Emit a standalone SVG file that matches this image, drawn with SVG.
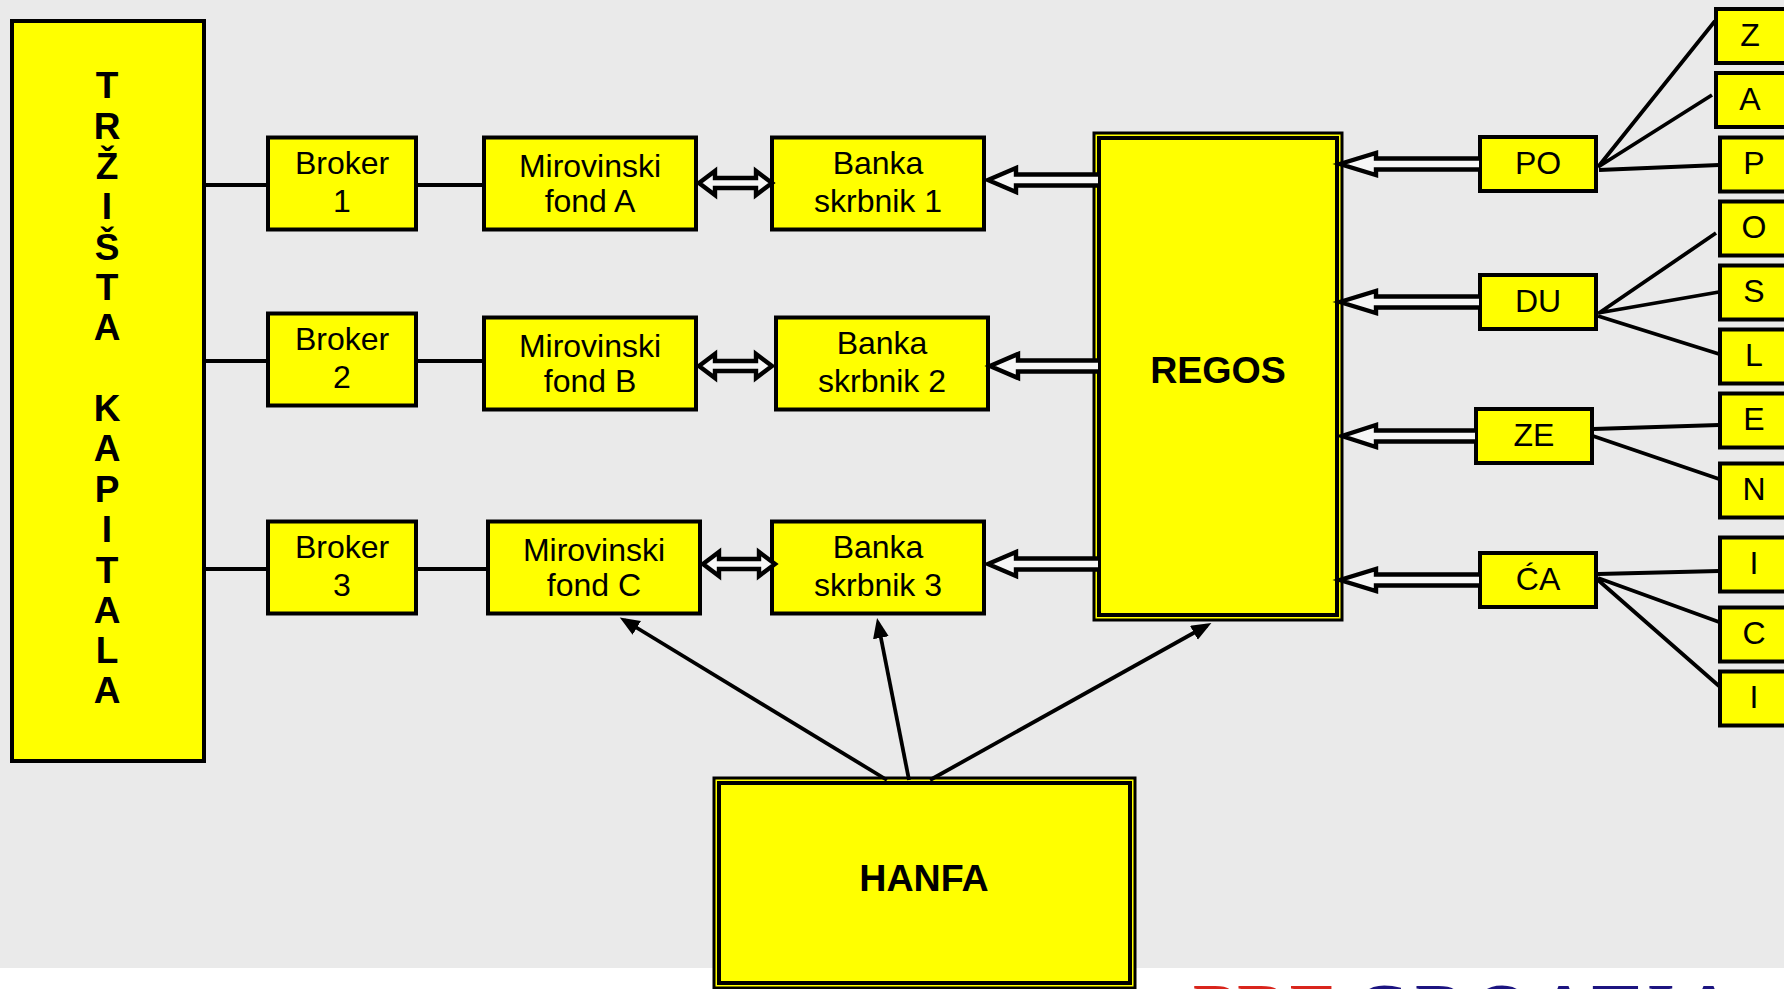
<svg xmlns="http://www.w3.org/2000/svg" width="1784" height="989" viewBox="0 0 1784 989">
<defs>
<style>
.b{fill:#ff0;stroke:#000;stroke-width:4}
.o{fill:#ff0;stroke:#000;stroke-width:3}
.t{font-family:"Liberation Sans",Arial,sans-serif;font-size:32px;fill:#000;text-anchor:middle}
.h{font-family:"Liberation Sans",Arial,sans-serif;font-size:37.6px;font-weight:bold;fill:#000;text-anchor:middle}
.v{font-family:"Liberation Sans",Arial,sans-serif;font-size:37px;font-weight:bold;fill:#000;text-anchor:middle}
.l{fill:none;stroke:#000;stroke-width:3.8}
.w{fill:#f6f6f6;stroke:#000;stroke-width:4.4}
.g{font-family:"Liberation Serif",serif;font-size:71px;font-weight:bold}
</style>
<marker id="ah" markerUnits="userSpaceOnUse" markerWidth="22" markerHeight="18" refX="15" refY="8" orient="auto"><path d="M0 0L20 8L0 16Z" fill="#000"/></marker>
</defs>
<rect width="1784" height="989" fill="#fff"/>
<rect width="1784" height="968" fill="#eaeaea"/>
<g id="logo" class="g"><text x="1193" y="1033" fill="#d9251c" textLength="145" lengthAdjust="spacingAndGlyphs">PRE</text><text x="1356" y="1033" fill="#1c1480" textLength="378" lengthAdjust="spacing">CROATIA</text></g>
<g id="trzista"><rect class="b" x="12" y="21" width="192" height="740"/>
<text class="v" x="107" y="98">T</text><text class="v" x="107" y="139">R</text><text class="v" x="107" y="179">Ž</text><text class="v" x="107" y="219">I</text><text class="v" x="107" y="260">Š</text><text class="v" x="107" y="300">T</text><text class="v" x="107" y="340">A</text><text class="v" x="107" y="421">K</text><text class="v" x="107" y="461">A</text><text class="v" x="107" y="502">P</text><text class="v" x="107" y="542">I</text><text class="v" x="107" y="583">T</text><text class="v" x="107" y="623">A</text><text class="v" x="107" y="663">L</text><text class="v" x="107" y="703">A</text></g>
<g id="broker1"><rect class="b" x="268" y="137.500" width="148" height="92"/><text class="t" x="342" y="174">Broker</text><text class="t" x="342" y="212">1</text></g>
<g id="broker2"><rect class="b" x="268" y="313.500" width="148" height="92"/><text class="t" x="342" y="350">Broker</text><text class="t" x="342" y="388">2</text></g>
<g id="broker3"><rect class="b" x="268" y="521.500" width="148" height="92"/><text class="t" x="342" y="558">Broker</text><text class="t" x="342" y="596">3</text></g>
<g id="fondA"><rect class="b" x="484" y="137.500" width="212" height="92"/><text class="t" x="590" y="177">Mirovinski</text><text class="t" x="590" y="212">fond A</text></g>
<g id="fondB"><rect class="b" x="484" y="317.500" width="212" height="92"/><text class="t" x="590" y="357">Mirovinski</text><text class="t" x="590" y="392">fond B</text></g>
<g id="fondC"><rect class="b" x="488" y="521.500" width="212" height="92"/><text class="t" x="594" y="561">Mirovinski</text><text class="t" x="594" y="596">fond C</text></g>
<g id="banka1"><rect class="b" x="772" y="137.500" width="212" height="92"/><text class="t" x="878" y="174">Banka</text><text class="t" x="878" y="212">skrbnik 1</text></g>
<g id="banka2"><rect class="b" x="776" y="317.500" width="212" height="92"/><text class="t" x="882" y="354">Banka</text><text class="t" x="882" y="392">skrbnik 2</text></g>
<g id="banka3"><rect class="b" x="772" y="521.500" width="212" height="92"/><text class="t" x="878" y="558">Banka</text><text class="t" x="878" y="596">skrbnik 3</text></g>
<g id="regos"><rect class="o" x="1094" y="133" width="248" height="487"/><rect class="b" x="1099" y="138" width="238" height="477"/><text class="h" x="1218" y="383">REGOS</text></g>
<g id="hanfa"><rect class="o" x="714" y="778" width="421" height="210"/><rect class="b" x="719" y="783" width="411" height="200"/><text class="h" x="924" y="891">HANFA</text></g>
<g id="po"><rect class="b" x="1480" y="137" width="116" height="54"/><text class="t" x="1538" y="174">PO</text></g>
<g id="du"><rect class="b" x="1480" y="275" width="116" height="54"/><text class="t" x="1538" y="312">DU</text></g>
<g id="ze"><rect class="b" x="1476" y="409" width="116" height="54"/><text class="t" x="1534" y="446">ZE</text></g>
<g id="ca"><rect class="b" x="1480" y="553" width="116" height="54"/><text class="t" x="1538" y="590">ĆA</text></g>
<g id="z"><rect class="b" x="1716" y="9" width="80" height="54"/><text class="t" x="1750" y="46">Z</text></g>
<g id="a"><rect class="b" x="1716" y="73" width="80" height="54"/><text class="t" x="1750" y="110">A</text></g>
<g id="p"><rect class="b" x="1720" y="137.500" width="80" height="54"/><text class="t" x="1754" y="174">P</text></g>
<g id="o"><rect class="b" x="1720" y="201.500" width="80" height="54"/><text class="t" x="1754" y="238">O</text></g>
<g id="s"><rect class="b" x="1720" y="265.500" width="80" height="54"/><text class="t" x="1754" y="302">S</text></g>
<g id="l"><rect class="b" x="1720" y="329.500" width="80" height="54"/><text class="t" x="1754" y="366">L</text></g>
<g id="e"><rect class="b" x="1720" y="393.500" width="80" height="54"/><text class="t" x="1754" y="430">E</text></g>
<g id="n"><rect class="b" x="1720" y="463.500" width="80" height="54"/><text class="t" x="1754" y="500">N</text></g>
<g id="i1"><rect class="b" x="1720" y="537.500" width="80" height="54"/><text class="t" x="1754" y="574">I</text></g>
<g id="c"><rect class="b" x="1720" y="607.500" width="80" height="54"/><text class="t" x="1754" y="644">C</text></g>
<g id="i2"><rect class="b" x="1720" y="671.500" width="80" height="54"/><text class="t" x="1754" y="708">I</text></g>
<g id="connectors">
<path class="l" d="M206 185H266M418 185H482M206 361H266M418 361H482M206 569H266M418 569H486"/>
<path class="w" d="M699 183L715 171V178H756V171L772 183L756 195V188H715V195Z"/>
<path class="w" d="M699 366L715 354V361H756V354L772 366L756 378V371H715V378Z"/>
<path class="w" d="M703 564L719 552V559H759V552L775 564L759 576V569H719V576Z"/>
<path class="w" d="M1098 174.500H1016V168L988 180L1016 192V185.500H1098"/>
<path class="w" d="M1098 360.500H1018V354L990 366L1018 378V371.500H1098"/>
<path class="w" d="M1098 558.500H1016V552L988 564L1016 576V569.500H1098"/>
<path class="w" d="M1479 158.500H1376V153L1340 164L1376 175V169.500H1479"/>
<path class="w" d="M1479 296.500H1376V291L1340 302L1376 313V307.500H1479"/>
<path class="w" d="M1475 430.500H1376V425L1342 436L1376 447V441.500H1475"/>
<path class="w" d="M1479 574.500H1376V569L1340 580L1376 591V585.500H1479"/>
<path class="l" d="M1598 167L1715 21M1598 167L1712 95M1599 170L1719 165M1599 313L1716 233M1598 313L1719 292M1598 316L1719 354M1593 429L1719 425M1593 436L1719 479M1598 574L1719 571M1598 578L1719 622M1598 580L1719 686"/>
<path class="l" marker-end="url(#ah)" d="M887 780L624 620"/>
<path class="l" marker-end="url(#ah)" d="M909 780L878 623"/>
<path class="l" marker-end="url(#ah)" d="M930 780L1207 625.500"/>
</g>
</svg>
